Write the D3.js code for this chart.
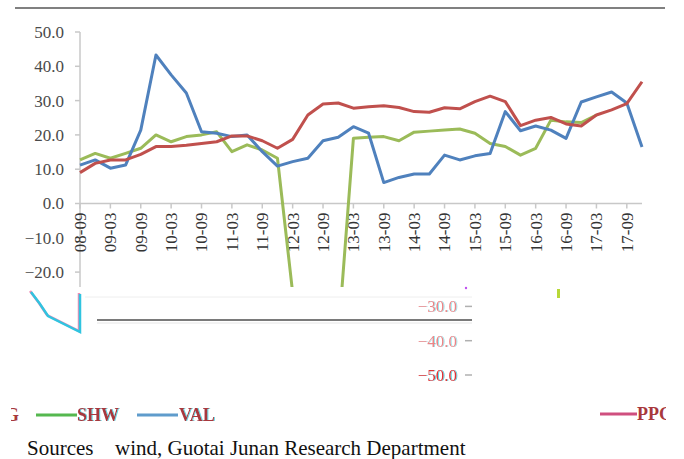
<!DOCTYPE html>
<html>
<head>
<meta charset="utf-8">
<script src="https://cdn.jsdelivr.net/npm/d3@7"></script>
<style>
body { margin: 0; background: #fff; }
text { font-family: "Liberation Serif", "Times New Roman", serif; }
</style>
</head>
<body>
<script>
var quarters = ['08-09','08-12','09-03','09-06','09-09','09-12','10-03','10-06','10-09','10-12',
  '11-03','11-06','11-09','11-12','12-03','12-06','12-09','12-12','13-03','13-06',
  '13-09','13-12','14-03','14-06','14-09','14-12','15-03','15-06','15-09','15-12',
  '16-03','16-06','16-09','16-12','17-03','17-06','17-09','17-12']

var ppg = [9.0, 11.7, 12.7, 12.7, 14.3, 16.6, 16.6, 17.0, 17.5, 18.0,
  19.7, 19.7, 18.3, 16.1, 18.7, 25.8, 29.0, 29.3, 27.8, 28.2,
  28.5, 28.0, 26.8, 26.6, 27.9, 27.6, 29.7, 31.3, 29.7, 22.7,
  24.3, 25.1, 23.2, 22.6, 25.8, 27.3, 29.1, 35.5]

var shw = [12.7, 14.6, 13.2, 14.6, 16.1, 20.0, 18.0, 19.5, 20.0, 20.9,
  15.1, 17.1, 15.6, 13.2, -26, -48, -50, -39, 19.0, 19.3,
  19.5, 18.3, 20.8, 21.1, 21.4, 21.7, 20.5, 17.5, 16.6, 14.1,
  16.1, 24.3, 23.8, 23.6, 25.8, null, null, null]

var val = [11.2, 12.7, 10.3, 11.2, 21.4, 43.3, 37.5, 32.2, 20.9, 20.5,
  19.5, 20.0, 15.1, 10.9, 12.2, 13.2, 18.3, 19.3, 22.4, 20.5,
  6.1, 7.6, 8.6, 8.6, 14.1, 12.7, 13.9, 14.6, 26.8, 21.2,
  22.6, 21.4, 19.0, 29.6, 31.1, 32.5, 29.3, 16.5]

var yTicks = [50, 40, 30, 20, 10, 0, -10, -20]
var lostTicks = [-30, -40, -50]

var colors = {ppg: '#c0504d', shw: '#9bbb59', val: '#4f81bd'}

var svg = d3.select('body').append('svg').attr('width', 684).attr('height', 459)

var x = d3.scalePoint().domain(quarters).range([80, 642])
var y = d3.scaleLinear().domain([-50, 50]).range([375, 32])

var cutY = 287

var defs = svg.append('defs')
var fr = defs.append('filter').attr('id', 'fringe')
  .attr('x', '-10%').attr('y', '-20%').attr('width', '130%').attr('height', '140%')
fr.append('feOffset').attr('in', 'SourceAlpha').attr('dx', 1.3).attr('dy', 0.3).attr('result', 'o')
fr.append('feFlood').attr('flood-color', '#2cd0e0').attr('flood-opacity', 0.8)
fr.append('feComposite').attr('in2', 'o').attr('operator', 'in').attr('result', 'c')
var fm = fr.append('feMerge')
fm.append('feMergeNode').attr('in', 'c')
fm.append('feMergeNode').attr('in', 'SourceGraphic')

// top rule
svg.append('line').attr('x1', 15).attr('x2', 665).attr('y1', 8).attr('y2', 8)
  .attr('stroke', '#808080').attr('stroke-width', 2)

defs.append('clipPath').attr('id', 'plotclip')
  .append('rect').attr('x', 0).attr('y', 0).attr('width', 684).attr('height', cutY)

var plot = svg.append('g').attr('clip-path', 'url(#plotclip)')

// y axis
plot.append('line').attr('x1', 80).attr('x2', 80).attr('y1', y(50)).attr('y2', 300)
  .attr('stroke', '#c8c8c8').attr('stroke-width', 1.5)

plot.selectAll('.ytick').data(yTicks).enter().append('line')
  .attr('x1', 75).attr('x2', 80).attr('y1', d => y(d)).attr('y2', d => y(d))
  .attr('stroke', '#c8c8c8').attr('stroke-width', 1.5)

plot.selectAll('.ylab').data(yTicks).enter().append('text')
  .attr('x', 64).attr('y', d => y(d)).attr('dy', '0.35em')
  .attr('text-anchor', 'end').attr('font-size', 17).attr('fill', '#4a4a4a')
  .text(d => d3.format('.1f')(d))

// x axis
plot.append('line').attr('x1', 80).attr('x2', 642).attr('y1', y(0)).attr('y2', y(0))
  .attr('stroke', '#c8c8c8').attr('stroke-width', 1.5)

var tickQ = quarters.filter((q, i) => i % 2 == 0)

plot.selectAll('.xtick').data(tickQ).enter().append('line')
  .attr('x1', d => x(d)).attr('x2', d => x(d))
  .attr('y1', y(0)).attr('y2', y(0) + 5)
  .attr('stroke', '#c8c8c8').attr('stroke-width', 1.5)

plot.selectAll('.xlab').data(tickQ).enter().append('text')
  .attr('transform', d => 'translate(' + x(d) + ',' + (y(0) + 9) + ') rotate(-90)')
  .attr('dy', '0.35em').attr('text-anchor', 'end')
  .attr('font-size', 17).attr('fill', '#333')
  .text(d => d)

// series
var line = d3.line()
  .defined(d => d.v != null)
  .x(d => x(d.q))
  .y(d => y(d.v))

function rows(arr){ return quarters.map((q, i) => ({q: q, v: arr[i]})) }

;[['shw', shw], ['val', val], ['ppg', ppg]].forEach(function(s){
  plot.append('path').attr('d', line(rows(s[1])))
    .attr('fill', 'none').attr('stroke', colors[s[0]])
    .attr('stroke-width', 3).attr('stroke-linejoin', 'round')
})

// broken lower band of the picture
var glitch = svg.append('g')

glitch.append('line').attr('x1', 85).attr('x2', 472).attr('y1', 297).attr('y2', 297)
  .attr('stroke', '#eeeeee').attr('stroke-width', 1)
glitch.append('line').attr('x1', 97).attr('x2', 472).attr('y1', 320).attr('y2', 320)
  .attr('stroke', '#7a7a7a').attr('stroke-width', 2)
glitch.append('line').attr('x1', 97).attr('x2', 472).attr('y1', 323).attr('y2', 323)
  .attr('stroke', '#e6e6e6').attr('stroke-width', 1)

var trail = 'M31,292 L40,304 L48,316 L80,332 L80,294'
glitch.append('path').attr('d', trail).attr('transform', 'translate(-1,-1)')
  .attr('fill', 'none').attr('stroke', '#f08cb4').attr('stroke-width', 2.5)
glitch.append('path').attr('d', trail)
  .attr('fill', 'none').attr('stroke', '#30c4e0').attr('stroke-width', 2.5)

glitch.append('rect').attr('x', 557).attr('y', 289).attr('width', 3).attr('height', 9)
  .attr('fill', '#b8d838')
glitch.append('circle').attr('cx', 466).attr('cy', 288).attr('r', 1.2).attr('fill', '#c050f0')

lostTicks.forEach(function(t){
  glitch.append('text').attr('x', 457).attr('y', y(t)).attr('dy', '0.35em')
    .attr('text-anchor', 'end').attr('font-size', 17).attr('fill', '#e03434')
    .attr('filter', 'url(#fringe)')
    .attr('opacity', t == -50 ? 1 : 0.6).text(d3.format('.1f')(t))
  glitch.append('line').attr('x1', 465).attr('x2', 472).attr('y1', y(t)).attr('y2', y(t))
    .attr('stroke', '#b0b0b0').attr('stroke-width', 1.5)
})

// legend
function legendText(xp, yp, label){
  return svg.append('text').attr('x', xp).attr('y', yp).attr('font-size', 18)
    .attr('font-weight', 'bold').attr('fill', '#a8383c')
    .attr('filter', 'url(#fringe)').text(label)
}

defs.append('clipPath').attr('id', 'gclip')
  .append('rect').attr('x', 11).attr('y', 400).attr('width', 8).attr('height', 30)
svg.append('g').attr('clip-path', 'url(#gclip)').call(function(g){
  g.append('text').attr('x', 5).attr('y', 421).attr('font-size', 18)
    .attr('font-weight', 'bold').attr('fill', '#a8383c').text('G')
})

svg.append('line').attr('x1', 36).attr('x2', 77).attr('y1', 415).attr('y2', 415)
  .attr('stroke', '#55b84f').attr('stroke-width', 3)
legendText(77, 421, 'SHW')

svg.append('line').attr('x1', 137).attr('x2', 178).attr('y1', 415).attr('y2', 415)
  .attr('stroke', '#5f9ccc').attr('stroke-width', 3)
legendText(179, 421, 'VAL')

defs.append('clipPath').attr('id', 'pclip')
  .append('rect').attr('x', 630).attr('y', 400).attr('width', 36).attr('height', 30)
svg.append('line').attr('x1', 600).attr('x2', 637).attr('y1', 414).attr('y2', 414)
  .attr('stroke', '#cf4f7f').attr('stroke-width', 3)
svg.append('g').attr('clip-path', 'url(#pclip)').call(function(g){
  g.append('text').attr('x', 637).attr('y', 420).attr('font-size', 18)
    .attr('font-weight', 'bold').attr('fill', '#a8383c').text('PPG')
})

// source line
svg.append('text').attr('x', 27).attr('y', 455).attr('font-size', 21).attr('fill', '#111')
  .text('Sources')
svg.append('text').attr('x', 115).attr('y', 455).attr('font-size', 21).attr('fill', '#111')
  .text('wind, Guotai Junan Research Department')
</script>
</body>
</html>
